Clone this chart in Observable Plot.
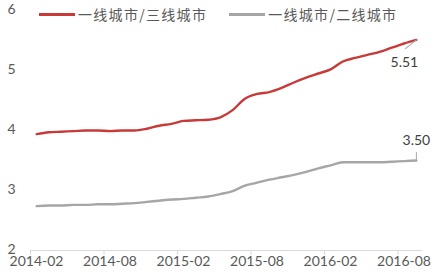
<!DOCTYPE html>
<html>
<head>
<meta charset="utf-8">
<script src="https://cdn.jsdelivr.net/npm/d3@7"></script>
<script src="https://cdn.jsdelivr.net/npm/@observablehq/plot@0.6"></script>
<style>
  html, body { margin: 0; padding: 0; background: #fff; }
  #wrap { position: relative; width: 437px; height: 279px; }
  #legend { position: absolute; top: 4px; left: 39px; display: flex; align-items: center;
    font-family: "Noto Sans CJK SC", sans-serif; font-size: 14px; color: #595959; letter-spacing: 1.3px; }
  .item { display: flex; align-items: center; }
  .swatch { width: 36px; height: 3px; margin-right: 3px; }
</style>
</head>
<body>
<div id="wrap"><div id="legend"></div></div>
<script>
const months = ["2014-02","2014-03","2014-04","2014-05","2014-06","2014-07","2014-08","2014-09","2014-10","2014-11","2014-12","2015-01",
  "2015-02","2015-03","2015-04","2015-05","2015-06","2015-07","2015-08","2015-09","2015-10","2015-11","2015-12","2016-01",
  "2016-02","2016-03","2016-04","2016-05","2016-06","2016-07","2016-08","2016-09"];
const seriesNames = ["一线城市/三线城市", "一线城市/二线城市"];
const tier13 = [3.94,3.97,3.98,3.99,4.00,4.00,3.99,4.00,4.00,4.03,4.08,4.11,
  4.16,4.17,4.18,4.22,4.34,4.53,4.61,4.64,4.71,4.80,4.88,4.95,
  5.02,5.15,5.21,5.26,5.31,5.38,5.45,5.51];
const tier12 = [2.74,2.75,2.75,2.76,2.76,2.77,2.77,2.78,2.79,2.81,2.83,2.85,
  2.86,2.88,2.90,2.94,2.99,3.08,3.13,3.18,3.22,3.26,3.31,3.37,
  3.42,3.47,3.47,3.47,3.47,3.48,3.49,3.50];
const yTicks = [2, 3, 4, 5, 6];
const xTickIdx = [0, 6, 12, 18, 24, 30];
const colors = ["#c83a3a", "#a6a6a6"];

const data = [];
months.forEach((m, i) => {
  data.push({i: i + 0.5, v: tier13[i], s: seriesNames[0]});
  data.push({i: i + 0.5, v: tier12[i], s: seriesNames[1]});
});
const last = [
  {i: months.length - 0.5, v: tier13[tier13.length - 1], s: seriesNames[0]},
  {i: months.length - 0.5, v: tier12[tier12.length - 1], s: seriesNames[1]}
];

const lineShape = {draw(ctx, l) { ctx.moveTo(0, 0); ctx.lineTo(0, -l); }};

const chart = Plot.plot({
  width: 437, height: 279,
  marginLeft: 30, marginRight: 15, marginTop: 10, marginBottom: 29,
  style: {fontFamily: "Lato, sans-serif", fontSize: "14px", color: "#595959", background: "#fff"},
  x: {domain: [0, months.length], label: null},
  y: {domain: [2, 6], label: null},
  color: {domain: seriesNames, range: colors},
  marks: [
    Plot.axisY({ticks: yTicks, tickSize: 0, tickPadding: 15, dy: -1, tickFormat: d => String(d), fill: "#595959", label: null}),
    Plot.ruleY([2], {stroke: "#d9d9d9", strokeWidth: 1.2}),
    Plot.axisX({ticks: xTickIdx, tickSize: 5, stroke: "#d9d9d9", tickFormat: () => "", label: null}),
    Plot.axisX({ticks: xTickIdx, tickSize: 0, tickPadding: 6, dx: 6, tickFormat: d => months[d], fill: "#595959", label: null}),
    Plot.line(data, {x: "i", y: "v", z: "s", stroke: "s", strokeWidth: 2.4, curve: "monotone-x"}),
    Plot.vector([last[0]], {x: "i", y: "v", length: 14, rotate: 231, anchor: "start", shape: lineShape, stroke: "#a6a6a6", strokeWidth: 1}),
    Plot.vector([last[1]], {x: "i", y: "v", length: 8, rotate: 0, anchor: "start", shape: lineShape, stroke: "#a6a6a6", strokeWidth: 1}),
    Plot.text([last[0]], {x: "i", y: "v", text: d => d.v.toFixed(2), dx: -12, dy: 23, fill: "#404040"}),
    Plot.text([last[1]], {x: "i", y: "v", text: d => d.v.toFixed(2), dx: 0, dy: -20, fill: "#404040"})
  ]
});
document.getElementById("wrap").prepend(chart);

const legend = document.getElementById("legend");
seriesNames.forEach((name, k) => {
  const item = document.createElement("div");
  item.className = "item";
  if (k > 0) item.style.marginLeft = "22px";
  const sw = document.createElement("div");
  sw.className = "swatch";
  sw.style.background = colors[k];
  const t = document.createElement("span");
  t.textContent = name;
  item.append(sw, t);
  legend.append(item);
});
</script>
</body>
</html>
